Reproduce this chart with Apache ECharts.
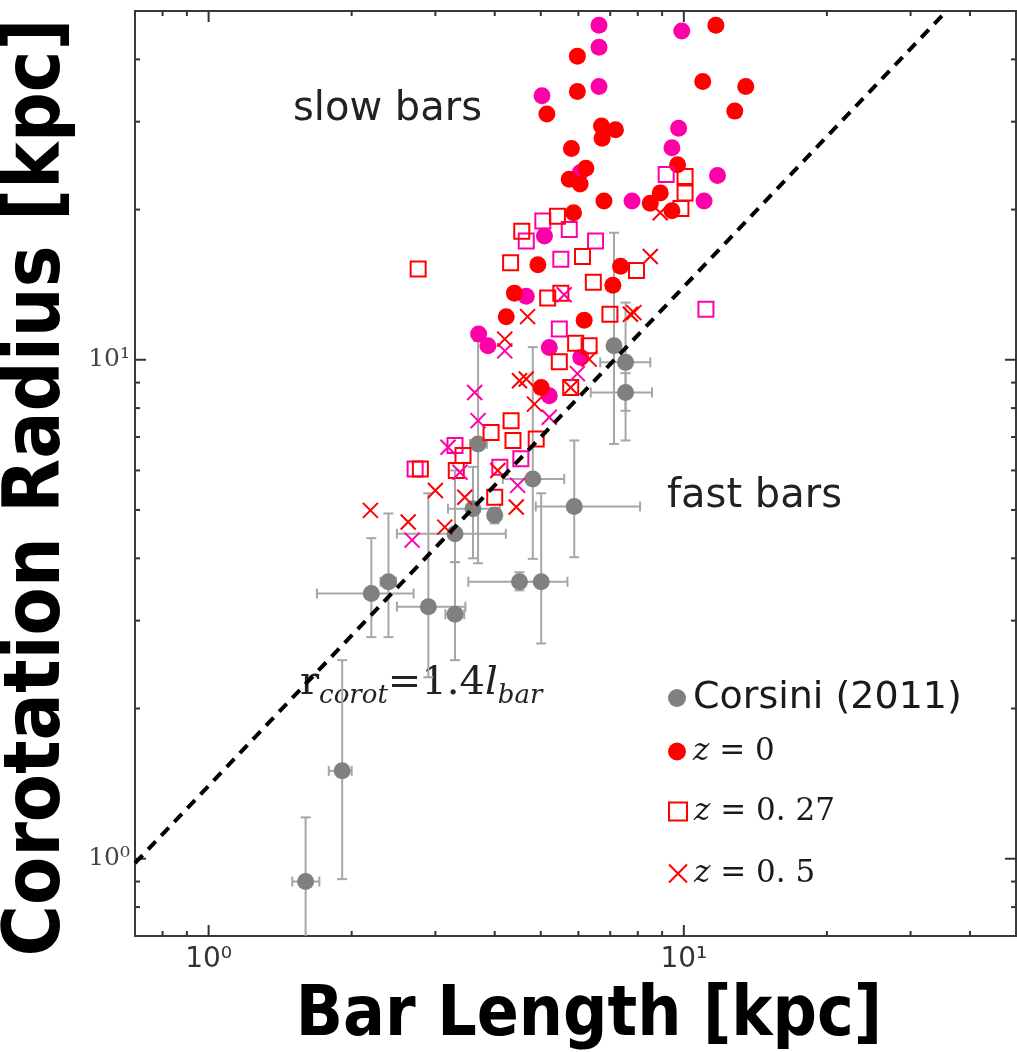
<!DOCTYPE html>
<html><head><meta charset="utf-8">
<script src="https://cdn.jsdelivr.net/npm/echarts@6/dist/echarts.min.js"></script>
<style>html,body{margin:0;padding:0;background:#fff}#c{width:1017px;height:1052px}</style>
</head><body><div id="c"></div>
<script>
// ---- axis ranges and ticks ----
const X_RANGE = [0.7, 50];
const Y_RANGE = [0.7, 50];
const xTicksMajor = [1, 10];
const xTicksMinor = [0.8, 0.9, 2, 3, 4, 5, 6, 7, 8, 9, 20, 30, 40];
const yTicksMajor = [1, 10];
const yTicksMinor = [0.8, 0.9, 2, 3, 4, 5, 6, 7, 8, 9, 20, 30, 40];

// ---- reference line r_corot = 1.4 l_bar (end points) ----
const refLine = [[0.7, 0.98], [35.7, 50]];

// ---- Corsini (2011) observations ----
const corsiniX   = [1.60, 1.91, 2.20, 2.39, 2.90, 3.30, 3.30, 3.69, 3.60, 4.00, 4.51, 5.01, 4.81, 5.88, 7.13, 7.54, 7.54];
const corsiniY   = [0.90, 1.50, 3.40, 3.59, 3.20, 3.09, 4.48, 6.78, 5.03, 4.88, 3.59, 3.59, 5.77, 5.08, 10.67, 9.88, 8.60];
const corsiniXLo = [1.50, 1.79, 1.69, 2.30, 2.49, 3.15, 2.49, 3.55, 3.19, 3.90, 3.52, 4.60, 4.16, 4.88, 6.95, 6.67, 6.37];
const corsiniXHi = [1.71, 2.00, 2.70, 2.48, 3.47, 3.45, 4.22, 3.85, 4.10, 4.10, 4.95, 5.69, 5.60, 8.09, 7.30, 8.50, 8.57];
const corsiniYLo = [0.55, 0.91, 2.78, 2.78, 2.31, 2.50, 3.93, 3.91, 4.00, 4.70, 3.45, 2.70, 3.99, 4.02, 6.78, 6.89, 7.90];
const corsiniYHi = [1.21, 2.50, 4.39, 4.92, 5.40, 3.93, 6.00, 10.9, 6.10, 5.05, 3.75, 5.40, 10.6, 6.89, 17.97, 13.02, 9.40];

// ---- simulations: [bar length, corotation radius] ----
const z0Red = [[11.68,46.8],[5.97,40.6],[10.96,36.1],[5.97,34.5],[13.50,35.3],[5.15,31.1],[12.80,31.5],[6.71,29.4],[7.18,28.9],[6.73,27.8],[5.80,26.5],[6.22,24.2],[5.74,23.0],[6.05,22.5],[9.70,24.6],[6.79,20.8],[8.92,21.6],[8.50,20.6],[9.44,19.9],[5.86,19.7],[4.93,15.5],[4.40,13.6],[4.23,12.2],[6.17,12.0],[7.36,15.4],[7.09,14.1],[5.01,8.80]];
const z0Pink = [[6.63,46.8],[6.63,42.3],[6.63,35.3],[5.03,33.8],[9.90,45.6],[9.75,29.1],[9.44,26.6],[11.77,23.4],[7.78,20.8],[11.03,20.8],[5.09,17.7],[4.66,13.4],[3.70,11.26],[3.87,10.67],[5.21,10.58],[6.07,10.11],[5.21,8.47],[6.05,23.7]];
const z027Red = [[2.76,15.2],[4.56,18.1],[4.32,15.65],[5.42,19.4],[6.12,16.1],[6.45,14.3],[5.17,13.3],[5.51,13.6],[7.95,15.1],[6.99,12.34],[5.92,10.79],[5.47,9.91],[5.78,8.80],[10.06,23.3],[10.06,21.6],[9.86,20.1],[3.93,7.15],[4.33,7.55],[4.37,6.89],[4.89,6.94],[3.43,6.43],[3.32,6.00],[2.79,6.04],[4.00,5.30],[6.32,10.67]];
const z027Pink = [[5.05,18.97],[4.66,17.3],[5.74,18.25],[6.52,17.3],[5.51,15.9],[9.18,23.5],[11.13,12.63],[5.47,11.52],[3.30,6.73],[2.72,6.04],[4.10,6.09],[4.54,6.33]];
const z05Red = [[4.69,12.2],[4.20,11.0],[4.66,9.15],[4.51,9.08],[7.85,12.43],[4.85,8.15],[3.00,5.47],[2.19,4.99],[2.63,4.73],[3.46,5.30],[4.44,5.07],[3.14,4.62],[8.50,16.1],[8.92,19.7],[7.72,12.34],[5.78,8.80],[4.06,6.00],[6.32,10.03]];
const z05Pink = [[4.20,10.42],[3.63,8.60],[3.69,7.55],[3.19,6.68],[5.21,7.67],[4.47,5.60],[2.68,4.35],[5.60,13.5],[5.97,9.38],[3.38,5.95]];

// ---- styles ----
const RED = '#ff0000', PINK = '#ff00a8', GRAY = '#808080', ERR = '#a6a6a6';
const CROSS = 'path://M0,0L10,10M10,0L0,10';

const corsiniData = corsiniX.map((x, i) => [x, corsiniY[i], corsiniXLo[i], corsiniXHi[i], corsiniYLo[i], corsiniYHi[i]]);
const xTickData = xTicksMajor.map(v => [v, 1, 1]).concat(xTicksMinor.map(v => [v, 0, 1]));
const yTickData = yTicksMajor.map(v => [1, 1, v]).concat(yTicksMinor.map(v => [1, 0, v]));

function isPow10(v) { const l = Math.log10(v); return Math.abs(l - Math.round(l)) < 1e-6; }
const SUP = {'0':'⁰','1':'¹','2':'²','-':'⁻'};
function powLabel(v) {
  if (!isPow10(v)) return '';
  const e = String(Math.round(Math.log10(v)));
  return '10' + e.split('').map(c => SUP[c]).join('');
}

function errRender(params, api) {
  const x = api.value(0), y = api.value(1);
  const l = api.coord([api.value(2), y]), r = api.coord([api.value(3), y]);
  const b = api.coord([x, api.value(4)]), t = api.coord([x, api.value(5)]);
  const st = {stroke: ERR, lineWidth: 2};
  const c = 5;
  return {type: 'group', children: [
    {type:'line', shape:{x1:l[0], y1:l[1], x2:r[0], y2:r[1]}, style: st},
    {type:'line', shape:{x1:l[0], y1:l[1]-c, x2:l[0], y2:l[1]+c}, style: st},
    {type:'line', shape:{x1:r[0], y1:r[1]-c, x2:r[0], y2:r[1]+c}, style: st},
    {type:'line', shape:{x1:b[0], y1:b[1], x2:t[0], y2:t[1]}, style: st},
    {type:'line', shape:{x1:b[0]-c, y1:b[1], x2:b[0]+c, y2:b[1]}, style: st},
    {type:'line', shape:{x1:t[0]-c, y1:t[1], x2:t[0]+c, y2:t[1]}, style: st}
  ]};
}
function xTickRender(params, api) {
  const v = api.value(0), L = api.value(1) === 1 ? 11 : 5;
  const b = api.coord([v, Y_RANGE[0]]), t = api.coord([v, Y_RANGE[1]]);
  const st = {stroke: '#333', lineWidth: 2};
  return {type:'group', children:[
    {type:'line', shape:{x1:b[0], y1:b[1], x2:b[0], y2:b[1]-L}, style: st},
    {type:'line', shape:{x1:t[0], y1:t[1], x2:t[0], y2:t[1]+L}, style: st}]};
}
function yTickRender(params, api) {
  const v = api.value(2), L = api.value(1) === 1 ? 11 : 5;
  const l = api.coord([X_RANGE[0], v]), r = api.coord([X_RANGE[1], v]);
  const st = {stroke: '#333', lineWidth: 2};
  return {type:'group', children:[
    {type:'line', shape:{x1:l[0], y1:l[1], x2:l[0]+L, y2:l[1]}, style: st},
    {type:'line', shape:{x1:r[0], y1:r[1], x2:r[0]-L, y2:r[1]}, style: st}]};
}

const legendBase = {
  orient: 'vertical', left: 663, itemWidth: 18, itemHeight: 18, selectedMode: false,
  textStyle: {fontFamily: 'DejaVu Sans', fontSize: 38, color: '#1a1a1a', padding: [0, 0, 0, 2],
    rich: {
      i: {fontFamily: 'DejaVu Serif', fontStyle: 'italic', fontSize: 31, color: '#1a1a1a'},
      n: {fontFamily: 'DejaVu Serif', fontSize: 31, color: '#1a1a1a'}
    }}
};

const chart = echarts.init(document.getElementById('c'), null, {renderer: 'canvas'});
chart.setOption({
  animation: false,
  backgroundColor: '#fff',
  grid: {left: 135, right: 1, top: 11, bottom: 116, outerBoundsMode: 'none', containLabel: false,
    show: true, borderColor: '#3a3a3a', borderWidth: 2, backgroundColor: 'transparent'},
  xAxis: {
    type: 'log', logBase: 10, min: X_RANGE[0], max: X_RANGE[1],
    axisLine: {show: false}, axisTick: {show: false}, splitLine: {show: false},
    axisLabel: {formatter: powLabel, fontFamily: 'DejaVu Sans', fontSize: 28, color: '#333', margin: 10},
    name: 'Bar Length [kpc]', nameLocation: 'middle', nameGap: 47,
    nameTextStyle: {fontFamily: 'DejaVu Sans Condensed, DejaVu Sans', fontWeight: 'bold', fontSize: 69, color: '#000', padding: [0, 0, 0, 27]}
  },
  yAxis: {
    type: 'log', logBase: 10, min: Y_RANGE[0], max: Y_RANGE[1],
    axisLine: {show: false}, axisTick: {show: false}, splitLine: {show: false},
    axisLabel: {formatter: powLabel, fontFamily: 'DejaVu Serif', fontSize: 25, color: '#444', margin: 5},
    name: 'Corotation Radius [kpc]', nameLocation: 'middle', nameGap: 52,
    nameTextStyle: {fontFamily: 'DejaVu Sans Condensed, DejaVu Sans', fontWeight: 'bold', fontSize: 78, color: '#000', padding: [0, 28, 0, 0]}
  },
  legend: [
    Object.assign({}, legendBase, {top: 674, data: [{name: 'Corsini (2011)', icon: 'circle'}]}),
    Object.assign({}, legendBase, {top: 731, data: [{name: 'z=0', icon: 'circle'}], formatter: () => '{i|z}{n| = 0}'}),
    Object.assign({}, legendBase, {top: 791, data: ['z=0.27'], formatter: () => '{i|z}{n| = 0. 27}'}),
    Object.assign({}, legendBase, {top: 853, data: ['z=0.5'], formatter: () => '{i|z}{n| = 0. 5}'})
  ],
  graphic: [
    {type: 'text', left: 293, top: 90, style: {text: 'slow bars', font: '40px "DejaVu Sans"', fill: '#222'}},
    {type: 'text', left: 667, top: 477, style: {text: 'fast bars', font: '40px "DejaVu Sans"', fill: '#222'}},
    {type: 'text', left: 300, top: 664, style: {
      text: '{r|r}{s|corot}{n|=1.4}{l|l}{s|bar}',
      rich: {
        r: {fontFamily: 'DejaVu Serif', fontSize: 40, lineHeight: 50, fill: '#222'},
        n: {fontFamily: 'DejaVu Serif', fontSize: 40, lineHeight: 50, fill: '#222'},
        l: {fontFamily: 'DejaVu Serif', fontStyle: 'italic', fontSize: 40, lineHeight: 50, fill: '#222'},
        s: {fontFamily: 'DejaVu Serif', fontStyle: 'italic', fontSize: 26, lineHeight: 50, verticalAlign: 'bottom', fill: '#222'}
      }}}
  ],
  series: [
    {type: 'custom', name: 'xticks', data: xTickData, renderItem: xTickRender, encode: {x: 0, y: 2}, silent: true, z: 1},
    {type: 'custom', name: 'yticks', data: yTickData, renderItem: yTickRender, encode: {x: 0, y: 2}, silent: true, z: 1},
    {type: 'custom', name: 'corsiniErr', data: corsiniData, renderItem: errRender, encode: {x: 0, y: 1}, clip: true, silent: true, z: 2},
    {type: 'scatter', name: 'Corsini (2011)', data: corsiniData.map(d => [d[0], d[1]]), symbol: 'circle', symbolSize: 17, itemStyle: {color: GRAY, opacity: 1}, z: 3},
    {type: 'scatter', name: 'z=0 pink', data: z0Pink, symbol: 'circle', symbolSize: 17, itemStyle: {color: PINK, opacity: 1}, z: 3},
    {type: 'scatter', name: 'z=0', data: z0Red, symbol: 'circle', symbolSize: 17, itemStyle: {color: RED, opacity: 1}, z: 3},
    {type: 'scatter', name: 'z=0.27 pink', data: z027Pink, symbol: 'rect', symbolSize: 15, itemStyle: {color: 'rgba(255,255,255,0)', borderColor: PINK, borderWidth: 2, opacity: 1}, z: 3},
    {type: 'scatter', name: 'z=0.27', data: z027Red, symbol: 'rect', symbolSize: 15, itemStyle: {color: 'rgba(255,255,255,0)', borderColor: RED, borderWidth: 2, opacity: 1}, z: 3},
    {type: 'scatter', name: 'z=0.5 pink', data: z05Pink, symbol: CROSS, symbolSize: 15, itemStyle: {color: 'rgba(255,255,255,0)', borderColor: PINK, borderWidth: 2, opacity: 1}, z: 3},
    {type: 'scatter', name: 'z=0.5', data: z05Red, symbol: CROSS, symbolSize: 15, itemStyle: {color: 'rgba(255,255,255,0)', borderColor: RED, borderWidth: 2, opacity: 1}, z: 3},
    {type: 'line', name: 'ref', data: refLine, symbol: 'none', silent: true, lineStyle: {color: '#000', width: 4, type: [11, 8]}, z: 4}
  ]
});
</script></body></html>
